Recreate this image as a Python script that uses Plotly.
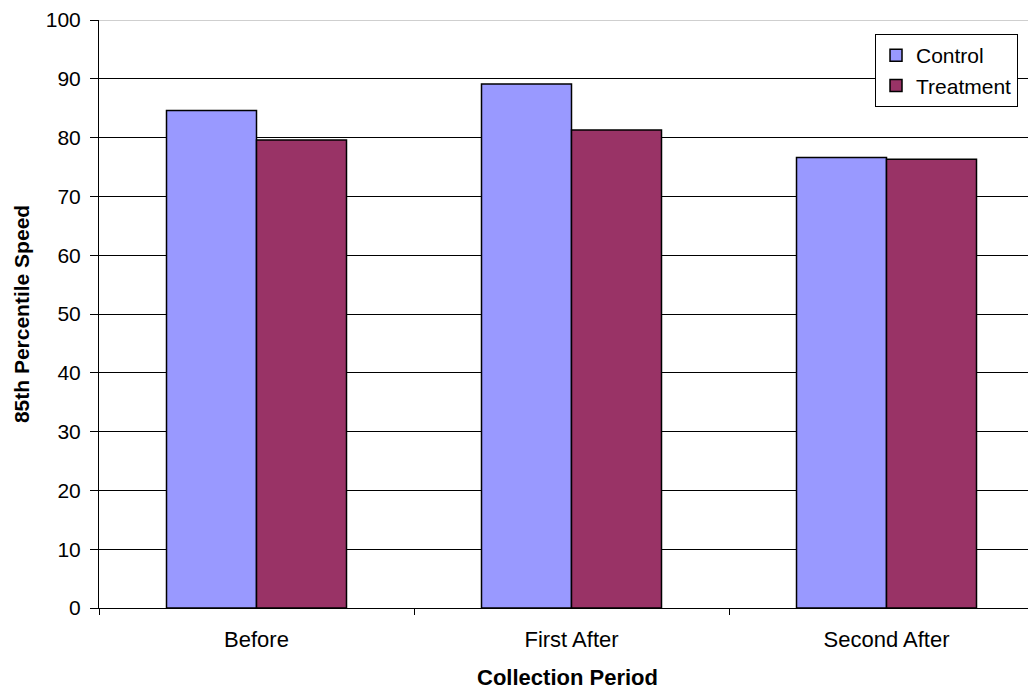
import plotly.graph_objects as go

categories = ["Before", "First After", "Second After"]
control = [84.6, 89.1, 76.6]
treatment = [79.6, 81.3, 76.3]
y_ticks = [0, 10, 20, 30, 40, 50, 60, 70, 80, 90, 100]

FONT = "Arial, 'Liberation Sans', sans-serif"

fig = go.Figure()
fig.add_trace(go.Bar(name="Control", x=categories, y=control,
                     marker=dict(color="#9999FF", line=dict(color="black", width=1.5))))
fig.add_trace(go.Bar(name="Treatment", x=categories, y=treatment,
                     marker=dict(color="#993366", line=dict(color="black", width=1.5))))

fig.update_layout(
    width=1028, height=683,
    margin=dict(l=91, r=0, t=12, b=83, autoexpand=False),
    paper_bgcolor="white", plot_bgcolor="white",
    barmode="group", bargap=0.4286, bargroupgap=0,
    font=dict(family=FONT, size=22, color="black"),
    legend=dict(x=0.9808, y=0.9762, xanchor="right", yanchor="top",
                bgcolor="white", bordercolor="black", borderwidth=1,
                font=dict(size=21), tracegroupgap=0, itemwidth=30),
    xaxis=dict(range=[-0.5, 2.4746], tickson="boundaries", ticks="outside",
               ticklen=6, tickcolor="black", showline=True, linecolor="black",
               linewidth=1, showgrid=False, ticklabelstandoff=12,
               title=dict(text="<b>Collection Period</b>", standoff=18,
                          font=dict(size=22))),
    yaxis=dict(range=[0, 100], tickvals=y_ticks, ticks="outside", ticklen=8,
               tickcolor="black", showline=True, linecolor="black", linewidth=1,
               showgrid=True, gridcolor="black", gridwidth=1, zeroline=False,
               ticklabeloverflow="allow", ticklabelstandoff=5,
               tickfont=dict(size=21),
               title=dict(text="<b>85th Percentile Speed</b>", standoff=10,
                          font=dict(size=21))),
    shapes=[dict(type="line", xref="paper", yref="y", x0=0, x1=1, y0=100, y1=100,
                 line=dict(color="#a0a0a0", width=1), layer="below")],
)

fig.write_html("out.html")
